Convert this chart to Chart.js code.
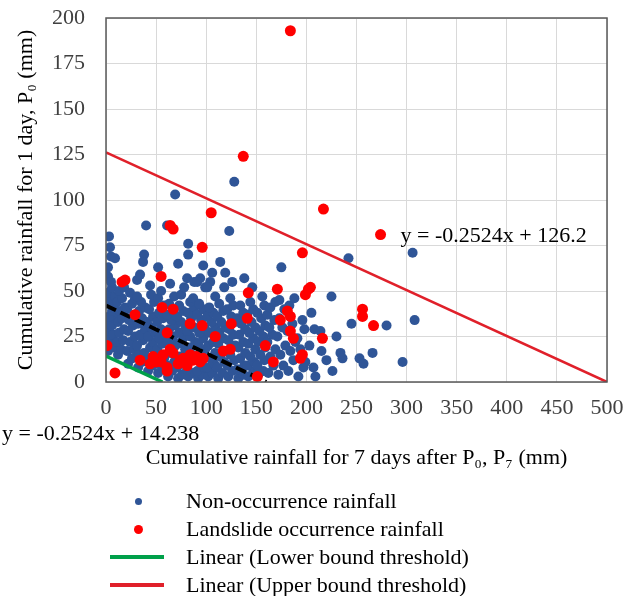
<!DOCTYPE html>
<html>
<head>
<meta charset="utf-8">
<script src="https://cdn.jsdelivr.net/npm/chart.js@4.4.1/dist/chart.umd.min.js"></script>
<style>
  body { margin: 0; background: #fff; }
  #wrap { position: relative; width: 628px; height: 596px; font-family: "Liberation Serif", "Times New Roman", serif; }
  #chart { position: absolute; left: 0; top: 0; }
  .txt { position: absolute; font-size: 22px; line-height: 26px; color: #000; white-space: nowrap; }
  .mark { position: absolute; }
</style>
</head>
<body>
<div id="wrap">
  <canvas id="chart" width="628" height="596"></canvas>
  <div class="txt" id="lowerEq" style="left:2px; top:420px;"></div>
  <div id="legend"></div>
</div>
<script>
// Titik hujan (x = P7, y = P0)
const nonOccurrence = [
  [2,17],[5,21],[1,24],[8,19],[3,28],[7,26],[1,32],[6,31],[9,35],[3,36],[6,39],[1,43],[8,42],[4,46],[2,49],[9,47],[6,52],[2,58],[2,63],[5,69],[9,68],[4,74],[3,80],[5,55],
  [12,15],[15,18],[11,22],[17,23],[13,27],[18,29],[12,33],[16,35],[14,39],[19,41],[11,44],[16,46],[13,50],[18,52],
  [22,10],[26,13],[21,17],[28,18],[24,22],[29,25],[22,28],[27,31],[23,34],[28,37],[21,40],[26,43],[29,46],[24,49],[31,56],[34,59],[38,70],[37,66],
  [32,8],[36,11],[33,15],[38,16],[31,20],[37,23],[34,26],[39,29],[32,32],[36,35],[33,39],[39,41],[35,44],[31,47],[40,86],
  [42,6],[46,9],[41,12],[48,14],[44,19],[47,22],[42,25],[49,27],[45,30],[41,33],[47,36],[43,40],[48,44],[45,48],[44,53],
  [52,5],[57,7],[53,10],[58,13],[51,18],[56,21],[53,24],[59,26],[55,29],[51,33],[57,35],[53,38],[58,42],[52,46],[52,63],[55,50],
  [62,3],[66,6],[61,9],[68,11],[64,16],[69,20],[62,23],[67,25],[63,29],[69,31],[65,34],[61,37],[67,39],[63,43],[68,47],[61,86],[69,103],[72,65],[64,54],
  [72,2],[76,4],[71,8],[78,10],[74,14],[79,18],[72,21],[77,24],[73,27],[79,29],[75,33],[71,36],[77,39],[73,42],[75,48],[78,52],
  [82,3],[87,5],[81,7],[86,15],[83,19],[89,22],[84,25],[81,28],[88,30],[85,35],[82,38],[88,41],[84,44],[87,46],[82,70],[82,76],[81,57],[88,55],
  [92,2],[96,4],[91,6],[98,8],[94,15],[99,18],[92,21],[97,24],[93,27],[99,29],[95,34],[91,37],[97,40],[93,43],[94,57],[91,55],[97,64],[99,52],
  [102,3],[106,5],[101,8],[108,10],[104,13],[109,16],[102,20],[107,22],[103,27],[109,30],[105,33],[101,36],[107,38],[103,41],[109,47],[104,55],[101,52],[106,60],
  [112,2],[116,5],[111,8],[118,11],[114,14],[119,17],[112,21],[117,24],[113,27],[119,30],[115,33],[111,36],[117,39],[113,43],[114,66],[119,60],[118,52],
  [122,3],[126,6],[121,9],[128,12],[124,15],[129,20],[122,23],[127,26],[123,29],[129,33],[125,36],[121,40],[127,42],[124,46],[123,83],[128,110],[126,55],
  [132,2],[137,4],[131,7],[138,9],[134,13],[139,16],[132,19],[137,22],[133,26],[139,29],[135,32],[131,35],[137,38],[134,42],[138,57],
  [142,3],[147,6],[141,9],[148,11],[144,14],[149,18],[142,21],[147,24],[143,27],[149,30],[145,33],[141,37],[147,40],[144,44],[146,52],
  [152,4],[157,6],[151,9],[158,12],[154,15],[159,19],[152,22],[157,25],[153,28],[159,31],[155,35],[151,38],[158,42],[156,47],
  [162,5],[167,9],[164,14],[169,18],[161,22],[166,26],[163,30],[168,34],[161,37],[164,41],[169,44],
  [172,4],[177,9],[174,15],[179,20],[171,25],[176,30],[173,35],[178,40],[173,45],[175,63],
  [182,6],[187,12],[184,17],[189,22],[181,28],[186,32],[183,42],[188,46],
  [192,3],[197,8],[199,11],[194,18],[191,24],[198,29],[196,34],
  [207,8],[209,3],[203,20],[208,29],[205,38],
  [215,17],[220,12],[214,28],[225,47],[226,6],[230,25],[234,16],[236,13],[242,68],[245,32],
  [253,13],[257,10],[266,16],[280,31],[296,11],[306,71],[308,34]
];

const landslide = [
  [184,193],[137,124],[105,93],[217,95],[274,81],[64,86],[67,84],[96,74],[196,71],
  [16,55],[19,56],[55,58],[142,49],[171,51],[199,48],[202,51],[204,52],
  [256,40],[256,36],[267,31],[216,24],[56,41],[67,40],[29,37],[141,35],[125,32],
  [84,32],[96,31],[181,39],[184,36],[174,34],[61,27],[109,25],[184,28],[187,24],
  [159,20],[1,20],[124,18],[117,17],[196,15],[194,13],[167,11],[34,12],[47,14],
  [61,8],[67,16],[77,13],[87,12],[94,11],[81,9],[64,18],[9,5],[151,3],[61,6],
  [44,10],[55,11],[72,10],[90,14],[50,11],[57,15],[74,12],[84,15],[97,13]
];

// Garis ambang batas (titik ujung)
const upperBound = [[0,126.2],[500,0]];
const lowerBound = [[0,14.238],[56.4,0]];
const midLine = [[0,42],[160,0]];

const xTicks = [0, 50, 100, 150, 200, 250, 300, 350, 400, 450, 500];
const yTicks = [0, 25, 50, 75, 100, 125, 150, 175, 200];

const upperEqText = "y = -0.2524x + 126.2";
const lowerEqText = "y = -0.2524x + 14.238";
const upperEqPos = [294, 80];

const legendItems = [
  { label: "Non-occurrence rainfall", type: "dot", color: "#2f5597", r: 3.5 },
  { label: "Landslide occurrence rainfall", type: "dot", color: "#ff0000", r: 4.5 },
  { label: "Linear (Lower bound threshold)", type: "line", color: "#00a04a" },
  { label: "Linear (Upper bound threshold)", type: "line", color: "#e0202a" }
];

const FONT = '"Liberation Serif", "Times New Roman", serif';

// Plugin: bingkai plot dan persamaan atas
const extras = {
  id: "extras",
  afterDraw(chart) {
    const { ctx, chartArea, scales } = chart;
    ctx.save();
    ctx.strokeStyle = "#595959";
    ctx.lineWidth = 1.5;
    ctx.strokeRect(chartArea.left, chartArea.top, chartArea.right - chartArea.left, chartArea.bottom - chartArea.top);
    ctx.fillStyle = "#000";
    ctx.font = "22px " + FONT;
    ctx.textAlign = "left";
    ctx.textBaseline = "middle";
    ctx.fillText(upperEqText, scales.x.getPixelForValue(upperEqPos[0]), scales.y.getPixelForValue(upperEqPos[1]));
    ctx.restore();
  }
};

new Chart(document.getElementById("chart"), {
  type: "scatter",
  data: {
    datasets: [
      { label: "Upper", data: upperBound, showLine: true, borderColor: "#e0202a", borderWidth: 2.5, pointRadius: 0, order: 0 },
      { label: "Lower", data: lowerBound, showLine: true, borderColor: "#00a04a", borderWidth: 3.5, pointRadius: 0, order: 1 },
      { label: "Landslide", data: landslide, backgroundColor: "#ff0000", borderWidth: 0, pointRadius: 5.5, order: 2 },
      { label: "Mid", data: midLine, showLine: true, borderColor: "#000", borderWidth: 4, borderDash: [11, 5], pointRadius: 0, order: 3 },
      { label: "Non", data: nonOccurrence, backgroundColor: "#2f5597", borderWidth: 0, pointRadius: 5, order: 4 }
    ]
  },
  options: {
    responsive: false,
    animation: false,
    layout: { padding: { left: 0, right: 21, top: 18, bottom: 125 } },
    plugins: { legend: { display: false }, tooltip: { enabled: false } },
    scales: {
      x: {
        type: "linear",
        min: 0,
        max: 500,
        afterBuildTicks: (s) => { s.ticks = xTicks.map((v) => ({ value: v })); },
        afterFit: (s) => { s.height = 89; s.paddingLeft = 0; s.paddingRight = 0; },
        grid: { color: "#d9d9d9", lineWidth: 1, drawTicks: false },
        border: { display: false },
        ticks: { color: "#404040", font: { family: FONT, size: 22 }, padding: 13, maxRotation: 0 },
        title: { display: true, text: "Cumulative rainfall for 7 days after P\u2080, P\u2087 (mm)", color: "#000", font: { family: FONT, size: 22 }, padding: 0 }
      },
      y: {
        type: "linear",
        min: 0,
        max: 200,
        afterBuildTicks: (s) => { s.ticks = yTicks.map((v) => ({ value: v })); },
        afterFit: (s) => { s.width = 106; s.paddingTop = 0; s.paddingBottom = 0; },
        grid: { color: "#d9d9d9", lineWidth: 1, drawTicks: false },
        border: { display: false },
        ticks: { color: "#404040", font: { family: FONT, size: 22 }, padding: 21 },
        title: { display: true, text: "Cumulative rainfall for 1 day, P\u2080 (mm)", color: "#000", font: { family: FONT, size: 22 }, padding: { top: 13, bottom: 0 } }
      }
    }
  },
  plugins: [extras]
});

// Persamaan bawah dan legenda (HTML)
document.getElementById("lowerEq").textContent = lowerEqText;
const legend = document.getElementById("legend");
const rowY = [501, 529, 557, 585];
legendItems.forEach((item, i) => {
  const m = document.createElement("div");
  m.className = "mark";
  if (item.type === "dot") {
    m.style.left = (138 - item.r) + "px";
    m.style.top = (rowY[i] - item.r) + "px";
    m.style.width = m.style.height = (item.r * 2) + "px";
    m.style.borderRadius = "50%";
  } else {
    m.style.left = "110px";
    m.style.top = (rowY[i] - 2) + "px";
    m.style.width = "54px";
    m.style.height = "4px";
  }
  m.style.background = item.color;
  legend.appendChild(m);
  const t = document.createElement("div");
  t.className = "txt";
  t.style.left = "186px";
  t.style.top = (rowY[i] - 13) + "px";
  t.textContent = item.label;
  legend.appendChild(t);
});
</script>
</body>
</html>
